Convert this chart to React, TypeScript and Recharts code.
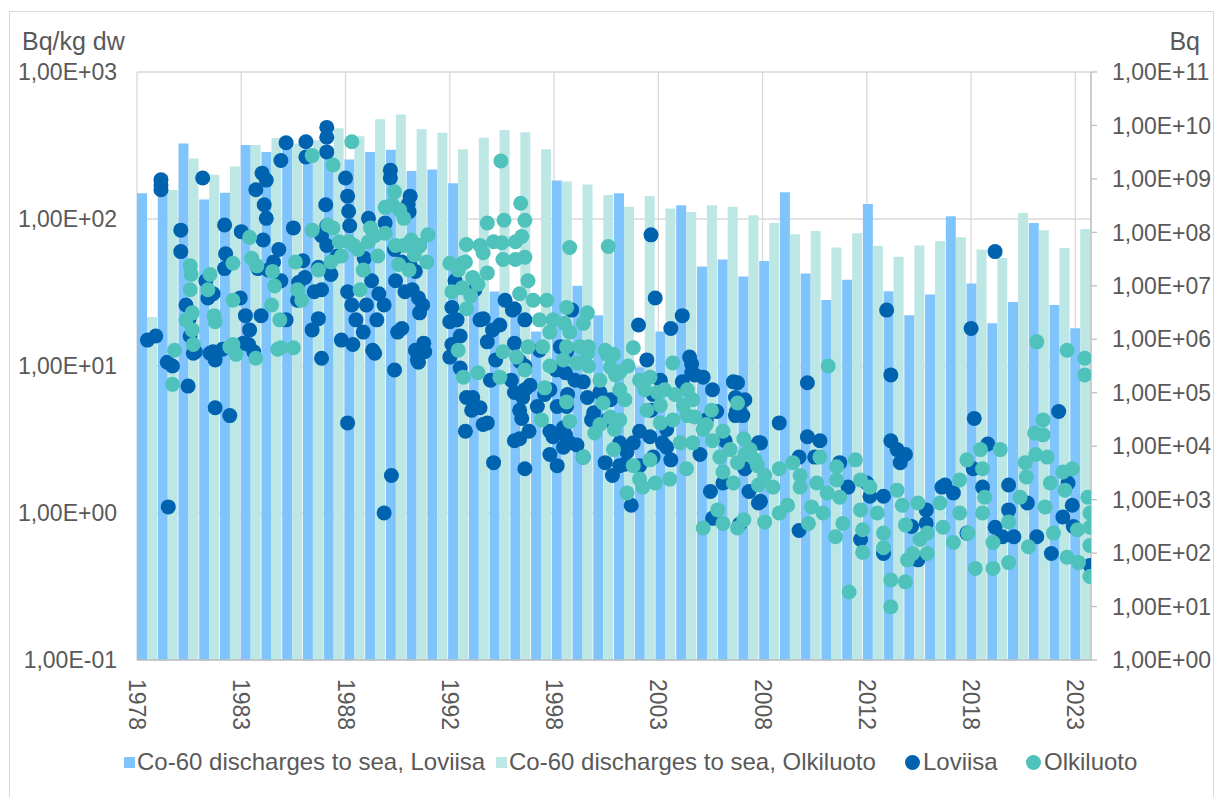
import React from 'react';
import { ComposedChart, Bar, Scatter, XAxis, YAxis, CartesianGrid } from 'recharts';

// Co-60 discharges to sea (Bq per year), right axis
const years = [
  '1978', '1979', '1980', '1981', '1982', '1983', '1984', '1985', '1986', '1987',
  '1988', '1989', '1990', '1991', '1992', '1993', '1994', '1995', '1996', '1997',
  '1998', '1999', '2000', '2001', '2002', '2003', '2004', '2005', '2006', '2007',
  '2008', '2009', '2010', '2011', '2012', '2013', '2014', '2015', '2016', '2017',
  '2018', '2019', '2020', '2021', '2022', '2023',
];
const loviisaDischarge = [
  5.4e8, 1.2e9, 4.6e9, 4.1e8, 5.5e8, 4.3e9, 3.2e9, 4.0e9, 3.5e9, 3.8e9,
  2.3e9, 3.2e9, 3.5e9, 1.4e9, 1.5e9, 8.3e8, 8.3e6, 7.8e6, 4.4e6, 1.4e6,
  9.3e8, 1.0e7, 2.8e6, 5.4e8, 3.0e5, 1.4e6, 3.2e8, 2.3e7, 3.1e7, 1.5e7,
  2.9e7, 5.6e8, 1.7e7, 5.4e6, 1.3e7, 3.4e8, 7.9e6, 2.8e6, 6.9e6, 2.0e8,
  1.1e7, 2.0e6, 5.0e6, 1.5e8, 4.4e6, 1.6e6,
];
const olkiluotoDischarge = [
  2.6e6, 6.2e8, 2.4e9, 1.2e9, 1.7e9, 4.3e9, 5.8e9, 4.6e9, 5.3e9, 8.9e9,
  6.3e9, 1.3e10, 1.6e10, 8.5e9, 7.3e9, 3.6e9, 5.9e9, 8.2e9, 7.5e9, 3.6e9,
  8.9e8, 7.9e8, 5.0e8, 3.0e8, 4.8e8, 2.8e8, 2.4e8, 3.2e8, 3.0e8, 2.1e8,
  1.5e8, 9.2e7, 1.06e8, 5.2e7, 9.6e7, 5.6e7, 3.5e7, 5.7e7, 6.9e7, 8.1e7,
  4.8e7, 3.3e7, 2.3e8, 1.1e8, 5.1e7, 1.16e8,
];

// sample concentrations (Bq/kg dw), [decimal year, value], left axis
const loviisaSamples: [number, number][] = [
  [1978.5, 15], [1978.9, 16], [1979.15, 185], [1979.15, 170], [1979.15, 158], [1979.45, 10.6], [1979.7, 10], [1979.5, 1.1],
  [1980.1, 84], [1980.1, 60], [1980.35, 26], [1980.5, 21], [1980.55, 16], [1980.8, 12.5], [1980.45, 7.3], [1980.7, 12.2],
  [1981.15, 190], [1981.4, 29], [1981.3, 38], [1981.65, 31], [1981.65, 12.5], [1981.75, 5.2], [1981.5, 12.2], [1981.75, 11],
  [1982.1, 13], [1982.2, 91], [1982.25, 58], [1982.2, 46], [1982.45, 4.6],
  [1983.0, 82], [1982.95, 29], [1983.2, 22], [1983.4, 17.6], [1983.35, 14], [1983.6, 12.5], [1983.7, 158], [1983.1, 14.3],
  [1984.0, 205], [1984.2, 184], [1984.1, 125], [1984.2, 101], [1984.05, 72], [1984.3, 45], [1983.8, 46], [1983.95, 22], [1984.55, 51],
  [1985.15, 330], [1984.9, 250], [1984.8, 62], [1984.9, 38], [1985.15, 20.6], [1985.5, 87], [1985.75, 37], [1985.7, 28], [1985.95, 52],
  [1986.05, 40], [1986.1, 335], [1986.1, 264], [1986.4, 17.6], [1986.5, 32], [1986.7, 21], [1986.7, 47], [1986.85, 77], [1986.85, 33], [1986.85, 11.3],
  [1987.1, 420], [1987.1, 360], [1987.1, 286], [1987.05, 125], [1987.1, 90], [1987.1, 66], [1987.3, 42], [1987.6, 56], [1987.8, 15],
  [1988.0, 190], [1988.1, 143], [1988.15, 113], [1988.2, 90], [1988.1, 32], [1988.3, 26], [1988.1, 4.1], [1988.5, 20.6], [1988.35, 14], [1988.85, 17], [1988.9, 54],
  [1989.0, 26], [1989.1, 101], [1989.25, 38], [1989.3, 12.8], [1989.5, 20.6], [1989.6, 31], [1989.85, 26], [1989.9, 94], [1989.85, 1.0], [1989.4, 12.2],
  [1990.15, 215], [1990.15, 190], [1990.2, 1.8], [1990.35, 9.4], [1990.5, 17], [1990.7, 18], [1990.35, 62], [1990.4, 38], [1990.7, 51], [1990.85, 32],
  [1991.0, 126], [1991.05, 112], [1991.1, 143], [1991.1, 48], [1991.35, 44], [1991.2, 33], [1991.5, 29], [1991.7, 26], [1991.55, 66], [1991.75, 14.3],
  [1991.35, 12.8], [1991.5, 10.6], [1991.55, 23], [1991.45, 11], [1991.8, 12.5],
  [1993.0, 20], [1993.25, 38], [1993.1, 14], [1993.5, 16], [1993.8, 6.1], [1994.05, 5.0], [1993.75, 3.6], [1993.0, 11.5], [1993.5, 9.7], [1993.1, 25], [1993.35, 20.6],
  [1994.6, 4.0], [1994.95, 8.0], [1995.1, 2.2], [1994.2, 33], [1994.45, 20.6], [1994.8, 14.6], [1994.1, 6.1], [1994.45, 5.2], [1994.8, 4.1], [1994.6, 21],
  [1995.2, 11], [1995.4, 19], [1995.65, 28], [1995.95, 8.0], [1995.05, 17.6],
  [1996.0, 24], [1996.1, 14.3], [1996.35, 10.8], [1996.35, 3.2], [1996.6, 6.9], [1996.35, 5.0], [1996.6, 10], [1996.1, 3.1], [1996.6, 2.0], [1996.45, 4.4],
  [1996.8, 3.6], [1996.1, 6.6], [1996.5, 6.1], [1996.1, 24.5], [1996.6, 20.6], [1996.85, 7.4],
  [1997.2, 5.3], [1997.55, 6.4], [1997.8, 3.6], [1997.95, 3.3], [1997.3, 12.8], [1997.8, 2.5], [1997.8, 6.9],
  [1998.15, 5.3], [1998.1, 9.4], [1998.55, 9.0], [1998.65, 6.4], [1998.55, 3.4], [1998.15, 2.1], [1998.45, 2.8], [1998.75, 3.0], [1998.45, 3.8], [1998.6, 5.3],
  [1998.3, 13.5], [1998.6, 12.5], [1998.85, 24], [1998.45, 13.3],
  [1999.0, 8.0], [1999.1, 2.9], [1999.4, 2.4], [1999.8, 4.3], [1999.6, 6.1], [1999.9, 4.8], [1999.4, 7.8],
  [2000.2, 6.6], [2000.7, 5.9], [2000.45, 2.2], [2000.8, 1.8], [2000.55, 4.3],
  [2001.15, 3.0], [2001.4, 2.15], [2001.7, 1.13], [2001.15, 2.1], [2001.5, 2.6], [2001.8, 3.0],
  [2002.1, 3.6], [2002.65, 5.0], [2002.75, 6.4], [2002.05, 19], [2002.65, 78], [2002.85, 29], [2002.1, 2.1], [2002.6, 3.3], [2002.75, 2.4], [2002.45, 11],
  [2003.6, 18], [2003.1, 8.0], [2003.4, 3.7], [2003.6, 2.3], [2003.4, 2.8], [2003.2, 3.0],
  [2004.15, 22], [2004.15, 7.8], [2004.5, 11.5], [2004.6, 10.3], [2004.75, 8.7], [2004.6, 9.0],
  [2005.0, 2.5], [2005.6, 6.9], [2005.5, 1.4], [2005.6, 0.92], [2005.15, 8.4], [2005.8, 4.9], [2005.3, 4.3],
  [2006.2, 3.1], [2006.7, 4.6], [2006.8, 7.7], [2006.7, 6.1], [2006.9, 5.0], [2006.9, 0.84], [2006.6, 7.8], [2006.75, 4.9], [2006.1, 1.6],
  [2007.05, 4.6], [2007.15, 2.0], [2007.15, 5.9], [2007.35, 1.4], [2007.8, 1.17], [2007.8, 3.0], [2007.9, 3.0], [2007.9, 1.2],
  [2008.8, 4.1], [2009.75, 2.4], [2009.75, 0.76], [2010.15, 7.7], [2010.15, 3.3], [2010.75, 3.1], [2010.5, 2.4],
  [2011.7, 2.2], [2012.1, 1.5], [2012.7, 0.66], [2013.0, 1.6], [2013.15, 1.3], [2013.8, 1.3], [2013.8, 0.53], [2013.95, 24],
  [2014.15, 8.7], [2014.15, 3.1], [2014.45, 2.7], [2014.85, 2.5], [2014.6, 2.2],
  [2015.45, 0.48], [2015.15, 0.81], [2015.85, 0.85], [2015.85, 1.05], [2016.6, 1.5], [2016.75, 1.55], [2017.15, 1.37], [2017.8, 0.73],
  [2018.0, 18], [2018.15, 4.4], [2018.8, 2.95], [2018.1, 2.0], [2018.55, 1.5], [2019.15, 60], [2019.15, 0.8], [2019.5, 0.69], [2019.8, 1.05], [2019.8, 1.55],
  [2020.05, 0.69], [2020.7, 1.17], [2021.15, 0.69], [2021.85, 0.53], [2022.2, 4.9], [2022.4, 0.94], [2022.65, 1.6], [2022.85, 1.13], [2022.9, 0.81], [2023.7, 0.44],
];

const olkiluotoSamples: [number, number][] = [
  [1979.7, 7.5], [1979.8, 12.8],
  [1980.55, 48], [1980.6, 42], [1980.55, 33], [1980.65, 23], [1980.35, 20.6], [1980.65, 17.6], [1980.7, 14],
  [1981.5, 42], [1981.4, 33], [1981.7, 22], [1981.75, 20],
  [1982.6, 50], [1982.6, 28], [1982.6, 14], [1982.75, 12], [1982.45, 13.5],
  [1983.4, 75], [1983.5, 54], [1983.75, 48], [1983.7, 11.3],
  [1984.45, 26], [1984.5, 44], [1984.6, 35], [1984.85, 20.6], [1984.9, 13.3], [1984.75, 13],
  [1985.6, 51], [1985.7, 33], [1985.9, 28], [1985.5, 13.3],
  [1986.4, 84], [1986.4, 270], [1986.7, 45],
  [1987.15, 91], [1987.4, 87], [1987.4, 233], [1987.7, 70], [1987.3, 51], [1987.8, 56],
  [1988.15, 70], [1988.3, 335], [1988.4, 66], [1988.6, 62], [1988.85, 45], [1988.7, 33],
  [1989.1, 70], [1989.2, 87], [1989.4, 77], [1989.55, 56], [1989.9, 80], [1989.9, 120],
  [1990.25, 125], [1990.35, 153], [1990.6, 115], [1990.8, 101], [1990.4, 66], [1990.55, 49], [1990.8, 66],
  [1991.15, 72], [1991.3, 57], [1991.55, 66], [1991.05, 45], [1991.9, 51], [1991.95, 78],
  [1993.0, 50], [1993.4, 45], [1993.75, 51], [1993.1, 32], [1993.6, 34], [1993.8, 24.5], [1993.8, 67], [1993.6, 50], [1993.4, 12.8], [1993.65, 8.4],
  [1994.0, 30], [1994.1, 40], [1994.35, 36], [1994.45, 66], [1994.6, 59], [1994.8, 43], [1994.8, 94], [1994.35, 9],
  [1995.1, 70], [1995.5, 69], [1995.55, 53], [1995.6, 98], [1995.45, 248], [1995.4, 8.4], [1995.55, 12.5],
  [1996.15, 70], [1996.45, 76], [1996.15, 53], [1996.6, 55], [1996.6, 98], [1996.4, 128], [1996.75, 38], [1996.35, 31], [1996.2, 11.5], [1996.6, 9.4], [1996.75, 13.5],
  [1997.0, 28], [1997.65, 28], [1997.3, 20.6], [1997.95, 20.6], [1997.8, 17], [1997.45, 13.5], [1997.8, 10], [1997.55, 7.1], [1997.4, 4.3],
  [1998.6, 25], [1998.5, 19.5], [1998.75, 17], [1998.6, 13.5], [1998.75, 64], [1998.45, 11], [1998.6, 5.7], [1998.75, 4.2],
  [1999.6, 23], [1999.4, 19.5], [1999.25, 13.5], [1999.65, 13.5], [1999.1, 10.5], [1999.6, 12.2], [1999.65, 10], [1999.4, 2.4], [1999.95, 3.5],
  [2000.55, 12], [2000.85, 12], [2000.6, 65], [2000.2, 8.0], [2000.35, 5.6], [2000.7, 4.5], [2000.85, 2.7], [2000.2, 4.0], [2000.9, 3.7], [2000.45, 12.8],
  [2000.7, 9.8], [2000.95, 8.7],
  [2001.8, 13.3], [2001.15, 9.1], [2001.55, 10], [2001.4, 5.9], [2001.15, 4.3], [2001.8, 2.1], [2001.5, 1.37], [2001.15, 6.9],
  [2002.25, 1.5], [2002.85, 1.6], [2002.1, 8.0], [2002.6, 8.4], [2002.95, 6.6], [2002.45, 5.0], [2002.6, 2.3], [2002.1, 1.7], [2002.35, 6.9],
  [2003.55, 1.7], [2003.7, 10.5], [2003.8, 6.4], [2003.1, 4.1], [2003.7, 4.3], [2003.1, 5.4], [2003.3, 6.9],
  [2004.4, 6.9], [2004.65, 5.9], [2004.4, 4.6], [2004.75, 4.5], [2004.05, 3.0], [2004.65, 3.0], [2004.35, 2.0], [2004.2, 5.4],
  [2005.3, 4.0], [2005.15, 3.7], [2005.6, 3.1], [2005.55, 5.0], [2005.95, 2.4], [2005.15, 0.79], [2005.85, 1.05],
  [2006.1, 3.6], [2006.45, 2.7], [2006.8, 2.2], [2006.6, 1.6], [2006.1, 1.9], [2006.1, 0.85], [2006.8, 0.79], [2006.8, 5.6],
  [2007.1, 3.2], [2007.4, 2.7], [2007.75, 2.1], [2007.1, 0.9], [2007.8, 1.55], [2007.15, 2.5], [2007.65, 2.3],
  [2008.1, 0.87], [2008.1, 1.8], [2008.5, 1.5], [2008.8, 2.0], [2008.8, 1.0],
  [2009.2, 1.13], [2009.45, 2.2], [2009.8, 1.8], [2009.8, 1.5],
  [2010.2, 0.85], [2010.35, 1.1], [2010.6, 1.6], [2010.75, 2.4], [2010.9, 1.0],
  [2011.15, 10], [2011.1, 1.37], [2011.5, 0.69], [2011.55, 2.06], [2011.55, 1.68], [2011.7, 1.28], [2011.85, 0.85],
  [2012.15, 0.29], [2012.45, 2.3], [2012.7, 1.68], [2012.7, 1.05], [2012.8, 0.77], [2012.8, 0.54],
  [2013.15, 1.5], [2013.5, 1.0], [2013.8, 0.73], [2013.8, 0.58],
  [2014.15, 0.35], [2014.15, 0.23], [2014.45, 1.43], [2014.7, 1.13], [2014.85, 0.83], [2014.85, 0.34], [2014.95, 0.48],
  [2015.2, 0.53], [2015.45, 1.17], [2015.55, 0.66], [2015.9, 0.73], [2015.9, 0.53],
  [2016.5, 1.17], [2016.65, 0.8],
  [2017.15, 0.63], [2017.45, 1.68], [2017.45, 1.0], [2017.8, 2.3], [2017.85, 0.73],
  [2018.2, 0.42], [2018.45, 2.7], [2018.55, 1.0], [2018.55, 2.0], [2018.65, 1.28],
  [2019.05, 0.63], [2019.05, 0.42], [2019.4, 2.7], [2019.8, 0.46], [2019.8, 0.87],
  [2020.35, 1.28], [2020.6, 2.2], [2020.65, 1.76], [2020.75, 0.59],
  [2021.05, 3.5], [2021.1, 2.5], [2021.15, 14.6], [2021.45, 4.3], [2021.45, 3.4], [2021.55, 1.1], [2021.65, 2.4], [2021.8, 1.6], [2021.95, 0.73],
  [2022.4, 1.9], [2022.5, 1.43], [2022.6, 12.8], [2022.85, 2.0], [2022.6, 0.5],
  [2023.1, 0.77], [2023.15, 0.46], [2023.45, 11.3], [2023.45, 8.7], [2023.6, 1.28], [2023.7, 1.0], [2023.7, 0.8], [2023.7, 0.6], [2023.7, 0.37],
];

const xTicks = [1978, 1983, 1988, 1993, 1998, 2003, 2008, 2013, 2018, 2023];
const xTickLabels = ['1978', '1983', '1988', '1992', '1998', '2003', '2008', '2012', '2018', '2023'];
const leftTicks = [0.1, 1, 10, 100, 1000];
const rightTicks = [1, 1e1, 1e2, 1e3, 1e4, 1e5, 1e6, 1e7, 1e8, 1e9, 1e10, 1e11];

const LOVIISA_BAR = '#80c4fe';
const OLKILUOTO_BAR = '#bde7e5';
const LOVIISA_DOT = '#0063b0';
const OLKILUOTO_DOT = '#4fc2bc';
const TEXT = '#595959';

const barRows = years.map((year, i) => ({
  year,
  loviisa: loviisaDischarge[i],
  olkiluoto: olkiluotoDischarge[i],
}));
const loviisaPoints = loviisaSamples.map(([x, y]) => ({ x, y }));
const olkiluotoPoints = olkiluotoSamples.map(([x, y]) => ({ x, y }));

const sci = (v: number) => {
  const e = Math.round(Math.log10(v));
  return `1,00E${e < 0 ? '-' : '+'}${String(Math.abs(e)).padStart(2, '0')}`;
};

const dot = (color: string) => (p: any) =>
  p.cx == null ? null : <circle cx={p.cx} cy={p.cy} r={7.5} fill={color} />;

function YearTick(props: any) {
  const { x, y, payload } = props;
  const label = xTickLabels[xTicks.indexOf(payload.value)];
  return (
    <text
      transform={`translate(${x},${y + 17}) rotate(90)`}
      textAnchor="start"
      dominantBaseline="central"
      fill={TEXT}
      fontSize={23}
    >
      {label}
    </text>
  );
}

const legendItems = [
  { label: 'Co-60 discharges to sea, Loviisa', color: LOVIISA_BAR, round: false, left: 124 },
  { label: 'Co-60 discharges to sea, Olkiluoto', color: OLKILUOTO_BAR, round: false, left: 496 },
  { label: 'Loviisa', color: LOVIISA_DOT, round: true, left: 905 },
  { label: 'Olkiluoto', color: OLKILUOTO_DOT, round: true, left: 1026 },
];

export default function App() {
  return (
    <div
      style={{
        position: 'absolute',
        left: 0,
        top: 0,
        width: 1222,
        height: 797,
        background: '#fff',
        overflow: 'hidden',
        fontFamily: '"Liberation Sans", Arial, sans-serif',
        color: TEXT,
      }}
    >
      <div style={{ position: 'absolute', left: 9, top: 11, width: 1203, height: 800, border: '1px solid #d9d9d9' }} />
      <div style={{ position: 'absolute', left: 22, top: 27, fontSize: 25 }}>Bq/kg dw</div>
      <div style={{ position: 'absolute', right: 22, top: 27, fontSize: 25 }}>Bq</div>

      <div style={{ position: 'absolute', left: 0, top: 0 }}>
        <ComposedChart
          width={1222}
          height={797}
          data={barRows}
          margin={{ top: 72, right: 0, bottom: 0, left: 0 }}
          barGap={0}
          barCategoryGap={0}
        >
          <CartesianGrid xAxisId="num" yAxisId="left" stroke="#d9d9d9" strokeWidth={1.3} />
          <XAxis xAxisId="cat" dataKey="year" type="category" orientation="top" height={0} hide />
          <XAxis
            xAxisId="num"
            dataKey="x"
            type="number"
            domain={[1978, 2023.75]}
            ticks={xTicks}
            interval={0}
            allowDataOverflow
            height={137}
            tickSize={0}
            tickLine={false}
            axisLine={{ stroke: '#bfbfbf', strokeWidth: 1.3 }}
            tick={<YearTick />}
          />
          <YAxis
            yAxisId="left"
            dataKey="y"
            scale="log"
            domain={[0.1, 1000]}
            ticks={leftTicks}
            interval={0}
            allowDataOverflow
            width={137}
            tickSize={0}
            tickMargin={20}
            tickLine={false}
            axisLine={false}
            tickFormatter={sci}
            tick={{ fill: TEXT, fontSize: 23 }}
          />
          <YAxis
            yAxisId="right"
            orientation="right"
            scale="log"
            domain={[1, 1e11]}
            ticks={rightTicks}
            interval={0}
            allowDataOverflow
            width={131}
            tickSize={6}
            tickMargin={15}
            tickLine={{ stroke: '#bfbfbf', strokeWidth: 1.3 }}
            axisLine={{ stroke: '#bfbfbf', strokeWidth: 1.3 }}
            tickFormatter={sci}
            tick={{ fill: TEXT, fontSize: 23 }}
          />
          <Bar xAxisId="cat" yAxisId="right" dataKey="loviisa" fill={LOVIISA_BAR} isAnimationActive={false} />
          <Bar xAxisId="cat" yAxisId="right" dataKey="olkiluoto" fill={OLKILUOTO_BAR} isAnimationActive={false} />
          <Scatter
            xAxisId="num"
            yAxisId="left"
            data={loviisaPoints}
            dataKey="y"
            shape={dot(LOVIISA_DOT)}
            isAnimationActive={false}
          />
          <Scatter
            xAxisId="num"
            yAxisId="left"
            data={olkiluotoPoints}
            dataKey="y"
            shape={dot(OLKILUOTO_DOT)}
            isAnimationActive={false}
          />
        </ComposedChart>
      </div>

      {legendItems.map((it) => (
        <div
          key={it.label}
          style={{ position: 'absolute', left: it.left, top: 748, height: 28, display: 'flex', alignItems: 'center', fontSize: 24 }}
        >
          <span
            style={{
              display: 'inline-block',
              width: it.round ? 15 : 11,
              height: it.round ? 15 : 11,
              borderRadius: it.round ? '50%' : 0,
              background: it.color,
              marginRight: it.round ? 3 : 2,
            }}
          />
          <span>{it.label}</span>
        </div>
      ))}
    </div>
  );
}
